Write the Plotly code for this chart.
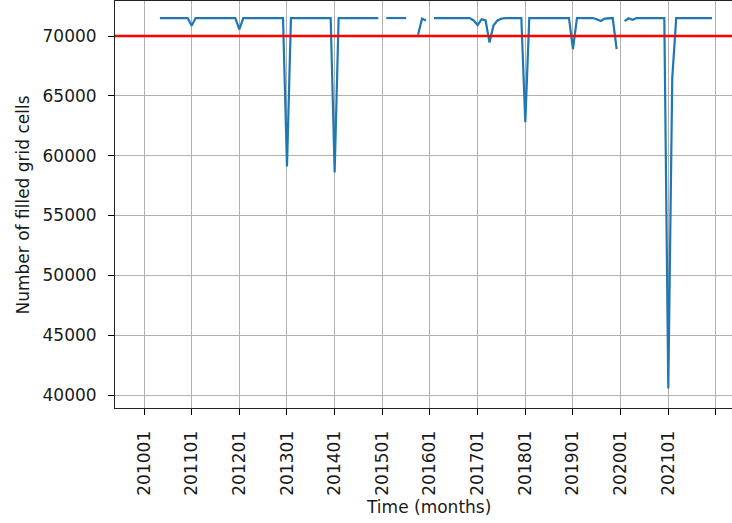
import plotly.graph_objects as go

# Monthly time axis, January 2010 .. December 2021
months = [f"{y}{m:02d}" for y in range(2010, 2022) for m in range(1, 13)]

# Number of filled grid cells per month (None = month missing)
filled_cells = [
    # 2010
    None, None, None, None, 71500, 71500, 71500, 71500, 71500, 71500, 71500, 71500,
    # 2011
    70850, 71500, 71500, 71500, 71500, 71500, 71500, 71500, 71500, 71500, 71500, 71500,
    # 2012
    70550, 71500, 71500, 71500, 71500, 71500, 71500, 71500, 71500, 71500, 71500, 71500,
    # 2013
    59100, 71500, 71500, 71500, 71500, 71500, 71500, 71500, 71500, 71500, 71500, 71500,
    # 2014
    58600, 71500, 71500, 71500, 71500, 71500, 71500, 71500, 71500, 71500, 71500, 71500,
    # 2015
    None, 71500, 71500, 71500, 71500, 71500, 71500, None, None, 70100, 71450, 71300,
    # 2016
    None, 71500, 71500, 71500, 71500, 71500, 71500, 71500, 71500, 71500, 71500, 71300,
    # 2017
    70900, 71400, 71300, 69450, 70900, 71300, 71450, 71500, 71500, 71500, 71500, 71500,
    # 2018
    62800, 71500, 71500, 71500, 71500, 71500, 71500, 71500, 71500, 71500, 71500, 71500,
    # 2019
    68900, 71500, 71500, 71500, 71500, 71500, 71400, 71250, 71450, 71500, 71500, 68900,
    # 2020
    None, 71250, 71480, 71350, 71500, 71500, 71500, 71500, 71500, 71500, 71500, 71500,
    # 2021
    40550, 66500, 71500, 71500, 71500, 71500, 71500, 71500, 71500, 71500, 71500, 71500,
]

threshold = 70000

# One labelled tick per January, plus a trailing unlabelled tick
tick_pos = list(range(0, len(months) + 1, 12))
tick_text = [months[i] for i in tick_pos[:-1]] + [""]

y_ticks = [40000, 45000, 50000, 55000, 60000, 65000, 70000]

font_family = "DejaVu Sans"
font_size = 17
text_color = "#1a1a1a"

fig = go.Figure()
fig.add_trace(go.Scatter(
    x=list(range(len(months))),
    y=filled_cells,
    mode="lines",
    line=dict(color="#1f77b4", width=2.2),
    connectgaps=False,
    hoverinfo="skip",
    showlegend=False,
))

fig.add_hline(y=threshold, line=dict(color="#ff0000", width=2.6), layer="above")

fig.update_layout(
    width=732,
    height=523,
    margin=dict(l=115, r=0, t=1, b=115),
    paper_bgcolor="white",
    plot_bgcolor="white",
    font=dict(family=font_family, size=font_size, color=text_color),
    showlegend=False,
)

fig.update_xaxes(
    range=[-7.3, 148.04],
    tickmode="array",
    tickvals=tick_pos,
    ticktext=tick_text,
    tickangle=-90,
    ticks="outside",
    ticklen=6,
    tickwidth=1,
    tickcolor="#000000",
    ticklabelstandoff=9,
    showgrid=True,
    gridcolor="#b0b0b0",
    gridwidth=1,
    showline=True,
    linecolor="#222222",
    linewidth=1,
    mirror=True,
    zeroline=False,
)

fig.update_yaxes(
    range=[38914, 72925],
    tickmode="array",
    tickvals=y_ticks,
    ticktext=[str(v) for v in y_ticks],
    ticks="outside",
    ticklen=6,
    tickwidth=1,
    tickcolor="#000000",
    ticklabelstandoff=8,
    showgrid=True,
    gridcolor="#b0b0b0",
    gridwidth=1,
    showline=True,
    linecolor="#222222",
    linewidth=1,
    mirror=False,
    zeroline=False,
)

# Axis titles
fig.add_annotation(
    text="Time (months)", xref="paper", yref="paper",
    x=(428 - 115) / 617, y=-(507 - 408) / 407,
    xanchor="center", yanchor="middle", showarrow=False,
    font=dict(family=font_family, size=font_size, color=text_color),
)
fig.add_annotation(
    text="Number of filled grid cells", xref="paper", yref="paper",
    x=-(115 - 22) / 617, y=0.5, textangle=-90,
    xanchor="center", yanchor="middle", showarrow=False,
    font=dict(family=font_family, size=font_size, color=text_color),
)

fig.write_html("out.html", config={"displayModeBar": False})
